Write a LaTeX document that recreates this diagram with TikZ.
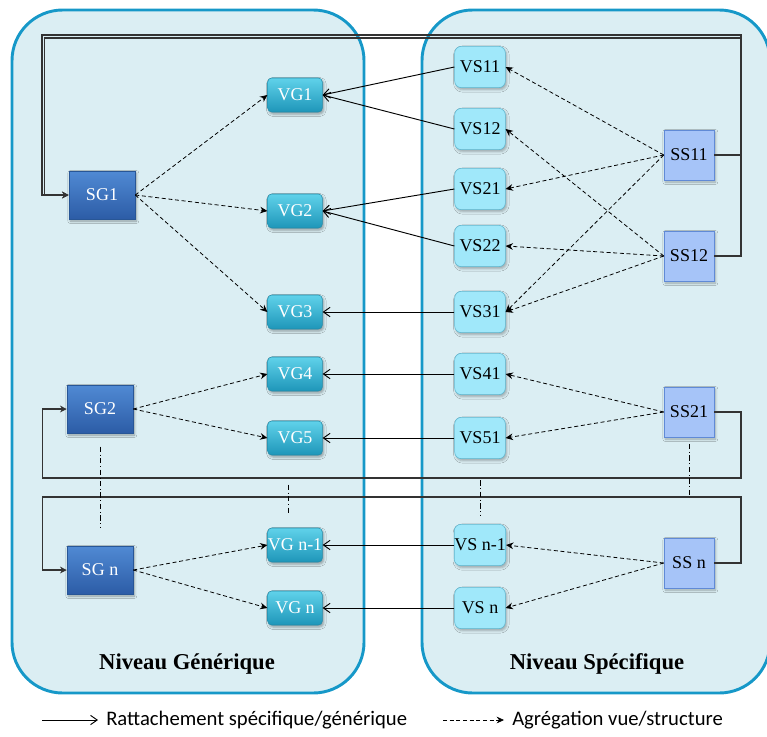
\documentclass[tikz,border=0pt]{standalone}
\usepackage{fontspec}
\setmainfont{Liberation Serif}
\newfontfamily\legendfont{Carlito}
\usepackage{tikz}
\usetikzlibrary{arrows.meta, positioning, shadows.blur}

\definecolor{levelblue}{RGB}{22,152,200}
\definecolor{levelfill}{RGB}{219,238,243}
\definecolor{sgtop}{RGB}{80,138,212}
\definecolor{sgbot}{RGB}{44,92,166}
\definecolor{sgborder}{RGB}{40,86,150}
\definecolor{vgtop}{RGB}{96,210,234}
\definecolor{vgbot}{RGB}{30,150,185}
\definecolor{vgborder}{RGB}{36,140,170}
\definecolor{vsfill}{RGB}{160,232,250}
\definecolor{vsborder}{RGB}{92,182,208}
\definecolor{ssfill}{RGB}{166,196,248}
\definecolor{ssborder}{RGB}{96,138,214}

\begin{document}
\begin{tikzpicture}[
  x=0.75pt, y=-0.75pt,
  level/.style={draw=levelblue, line width=2.2pt, fill=levelfill, rounded corners=38pt},
  sgbox/.style={rectangle, draw=sgborder, top color=sgtop, bottom color=sgbot, text=white, minimum width=49.5pt, minimum height=36pt, inner sep=0pt, font=\fontsize{13.5}{15}\selectfont, blur shadow={shadow xshift=1pt, shadow yshift=-1.5pt, shadow opacity=35}},
  vgbox/.style={rectangle, draw=vgborder, top color=vgtop, bottom color=vgbot, text=white, minimum width=41pt, minimum height=25.5pt, inner sep=0pt, rounded corners=3pt, font=\fontsize{13.5}{15}\selectfont, blur shadow={shadow xshift=1pt, shadow yshift=-1.5pt, shadow opacity=35}},
  vsbox/.style={rectangle, draw=vsborder, fill=vsfill, minimum width=38pt, minimum height=31pt, inner sep=0pt, rounded corners=5pt, font=\fontsize{13.5}{15}\selectfont, blur shadow={shadow xshift=1pt, shadow yshift=-1.5pt, shadow opacity=30}},
  ssbox/.style={rectangle, draw=ssborder, fill=ssfill, minimum width=37.5pt, minimum height=37.5pt, inner sep=0pt, font=\fontsize{13.5}{15}\selectfont, blur shadow={shadow xshift=1pt, shadow yshift=-1.5pt, shadow opacity=30}},
  title/.style={font=\fontsize{17}{20}\selectfont\bfseries},
  legend/.style={font=\legendfont\fontsize{15.5}{18}\selectfont, inner sep=0pt, anchor=west},
  link/.style={-{Straight Barb[length=5pt, width=7pt]}, line width=0.7pt},
  aggr/.style={-{Stealth[length=5.5pt, width=5pt]}, line width=0.6pt, dash pattern=on 3pt off 2pt},
  feedback/.style={-{Stealth[length=5pt, width=5pt]}, line width=0.9pt, draw=black!80},
  dots/.style={line width=0.5pt, dash pattern=on 4pt off 2pt on 0.6pt off 2pt}
]

\useasboundingbox (0,0) rectangle (767,736);
\draw[level] (12,10) rectangle (364,693);
\draw[level] (422,10) rectangle (770,693);

\node[title] (titleG) at (187,664) {Niveau Générique};
\node[title] (titleS) at (597,664) {Niveau Spécifique};

\node[sgbox] (SG1) at (102,195) {SG1};
\node[sgbox] (SG2) at (100,409) {SG2};
\node[sgbox] (SGn) at (100,570) {SG n};

\node[vgbox] (VG1) at (295,95) {VG1};
\node[vgbox] (VG2) at (295,211) {VG2};
\node[vgbox] (VG3) at (295,312) {VG3};
\node[vgbox] (VG4) at (295,374) {VG4};
\node[vgbox] (VG5) at (295,438) {VG5};
\node[vgbox] (VGn1) at (295,545) {VG n-1};
\node[vgbox] (VGn) at (295,608) {VG n};

\node[vsbox] (VS11) at (480,67) {VS11};
\node[vsbox] (VS12) at (480,129) {VS12};
\node[vsbox] (VS21) at (480,189) {VS21};
\node[vsbox] (VS22) at (480,246) {VS22};
\node[vsbox] (VS31) at (480,312) {VS31};
\node[vsbox] (VS41) at (480,374) {VS41};
\node[vsbox] (VS51) at (480,438) {VS51};
\node[vsbox] (VSn1) at (480,545) {VS n-1};
\node[vsbox] (VSn) at (480,608) {VS n};

\node[ssbox] (SS11) at (689,155) {SS11};
\node[ssbox] (SS12) at (689,256) {SS12};
\node[ssbox] (SS21) at (689,412) {SS21};
\node[ssbox] (SSn) at (689,563) {SS n};

\draw[link] (VS11.west) -- (VG1.east);
\draw[link] (VS12.west) -- (VG1.east);
\draw[link] (VS21.west) -- (VG2.east);
\draw[link] (VS22.west) -- (VG2.east);
\draw[link] (VS31) -- (VG3);
\draw[link] (VS41) -- (VG4);
\draw[link] (VS51) -- (VG5);
\draw[link] (VSn1) -- (VGn1);
\draw[link] (VSn) -- (VGn);

\draw[aggr] (SG1.east) -- (VG1.west);
\draw[aggr] (SG1.east) -- (VG2.west);
\draw[aggr] (SG1.east) -- (VG3.west);
\draw[aggr] (SG2.east) -- (VG4.west);
\draw[aggr] (SG2.east) -- (VG5.west);
\draw[aggr] (SGn.east) -- (VGn1.west);
\draw[aggr] (SGn.east) -- (VGn.west);

\draw[aggr] (SS11.west) -- (VS11.east);
\draw[aggr] (SS11.west) -- (VS21.east);
\draw[aggr] (SS11.west) -- (VS31.east);
\draw[aggr] (SS12.west) -- (VS12.east);
\draw[aggr] (SS12.west) -- (VS22.east);
\draw[aggr] (SS12.west) -- (VS31.east);
\draw[aggr] (SS21.west) -- (VS41.east);
\draw[aggr] (SS21.west) -- (VS51.east);
\draw[aggr] (SSn.west) -- (VSn1.east);
\draw[aggr] (SSn.west) -- (VSn.east);

\draw[feedback] (SS11.east) -| (741,35) -| ([xshift=-20pt]SG1.west) -- (SG1.west);
\draw[feedback] (SS12.east) -| (741,38) -| ([xshift=-18pt]SG1.west) -- (SG1.west);
\draw[feedback] (SS21.east) -| (741,478) -| ([xshift=-18pt]SG2.west) -- (SG2.west);
\draw[feedback] (SSn.east) -| (741,497) -| ([xshift=-18pt]SGn.west) -- (SGn.west);

\draw[dots, shorten <=10pt, shorten >=14pt] (SG2) -- (SGn);
\draw[dots, shorten <=22pt, shorten >=11pt] ([xshift=-5pt]VG5.south) -- ([xshift=-5pt]VGn1.north);
\draw[dots, shorten <=16pt, shorten >=6pt] (VS51) -- (VSn1);
\draw[dots, shorten <=5pt, shorten >=32pt] (SS21) -- (SSn);

\coordinate (legA) at (42,720);
\node[legend] (legAtext) at (106,720) {Rattachement spécifique/générique};
\draw[link, shorten >=6pt] (legA) -- (legAtext.west);
\coordinate (legB) at (443,720);
\node[legend] (legBtext) at (512,720) {Agrégation vue/structure};
\draw[aggr, shorten >=6pt] (legB) -- (legBtext.west);

\end{tikzpicture}
\end{document}
